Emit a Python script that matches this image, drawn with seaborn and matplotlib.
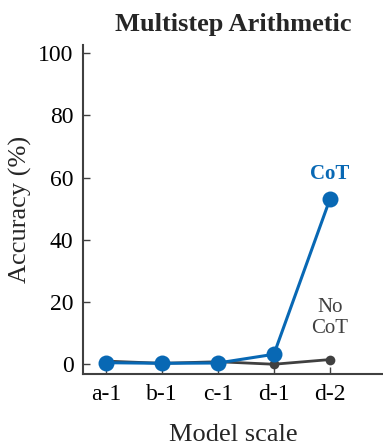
import matplotlib.pyplot as plt
import pandas as pd
import seaborn as sns

models = ["a-1", "b-1", "c-1", "d-1", "d-2"]
no_cot = [1.0, 0.3, 0.8, 0.0, 1.5]
cot = [0.5, 0.3, 0.4, 3.2, 53.0]

df = pd.DataFrame(
    {
        "model": models * 2,
        "acc": no_cot + cot,
        "method": ["No CoT"] * 5 + ["CoT"] * 5,
    }
)

sns.set_style("ticks")
plt.rcParams["font.family"] = ["Liberation Serif", "DejaVu Serif"]

blue = "#0868b4"
gray = "#404040"

fig = plt.figure(figsize=(3.83, 4.46), dpi=100)
ax = fig.add_axes([0.217, 0.161, 0.783, 0.738])

sns.lineplot(
    data=df[df["method"] == "No CoT"], x="model", y="acc",
    color=gray, marker="o", markersize=7, linewidth=2,
    markeredgewidth=0, ax=ax,
)
sns.lineplot(
    data=df[df["method"] == "CoT"], x="model", y="acc",
    color=blue, marker="o", markersize=11.5, linewidth=2.2,
    markeredgewidth=0, ax=ax,
)

ax.set_xlim(-0.41, 4.95)
ax.set_ylim(-3.2, 102.6)
ax.set_yticks([0, 20, 40, 60, 80, 100])
ax.tick_params(direction="in", length=5, width=1, colors=gray, labelcolor="black",
               labelsize=17, pad=7)
for s in ["top", "right"]:
    ax.spines[s].set_visible(False)
for s in ["left", "bottom"]:
    ax.spines[s].set_color(gray)
    ax.spines[s].set_linewidth(1.5)

ax.text(4, 58, "CoT", color=blue, fontsize=15, ha="center", va="bottom", fontweight="bold")
ax.text(4, 8.5, "No\nCoT", color=gray, fontsize=15, ha="center", va="bottom", linespacing=1.15)

ax.set_xlabel("Model scale", fontsize=19, labelpad=14)
ax.set_ylabel("Accuracy (%)", fontsize=19, labelpad=4)
ax.set_title("Multistep Arithmetic", fontsize=19, fontweight="bold", pad=10)

fig.savefig("out.png", dpi=100)
